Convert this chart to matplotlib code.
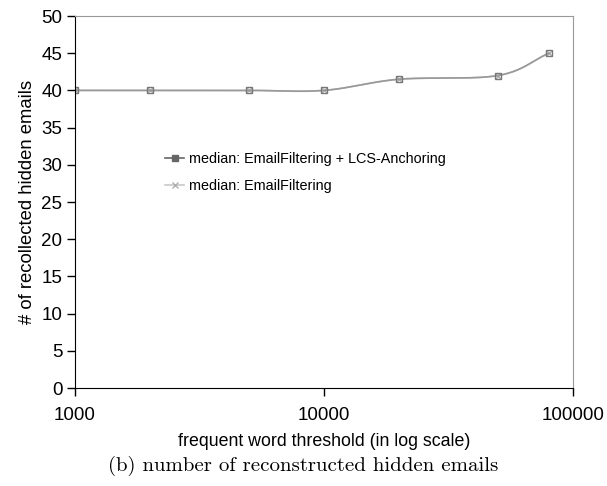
import numpy as np
import matplotlib.pyplot as plt
from matplotlib.ticker import FixedLocator, NullLocator

# frequent-word thresholds and median number of recollected hidden emails
thresholds = [1000, 2000, 5000, 10000, 20000, 50000, 80000]
median_lcs = [40, 40, 40, 40, 41.5, 42, 45]
median_filter = [40, 40, 40, 40, 41.5, 42, 45]


def smooth(xs, ys, n=40):
    """Catmull-Rom curve through the points, in log10(x) space."""
    lx = np.log10(xs)
    y = np.asarray(ys, dtype=float)
    px = np.concatenate([[2 * lx[0] - lx[1]], lx, [2 * lx[-1] - lx[-2]]])
    py = np.concatenate([[2 * y[0] - y[1]], y, [2 * y[-1] - y[-2]]])
    outx, outy = [], []
    t = np.linspace(0, 1, n)
    for i in range(1, len(px) - 2):
        for arr, out in ((px, outx), (py, outy)):
            p0, p1, p2, p3 = arr[i - 1], arr[i], arr[i + 1], arr[i + 2]
            m1 = (p2 - p0) / 2
            m2 = (p3 - p1) / 2
            h00 = 2 * t**3 - 3 * t**2 + 1
            h10 = t**3 - 2 * t**2 + t
            h01 = -2 * t**3 + 3 * t**2
            h11 = t**3 - t**2
            out.extend(h00 * p1 + h10 * m1 + h01 * p2 + h11 * m2)
    return 10 ** np.array(outx), np.array(outy)


plt.rcParams['font.family'] = ['Liberation Sans', 'DejaVu Sans']

fig = plt.figure(figsize=(6.07, 4.86), dpi=100)
ax = fig.add_axes([75 / 607, 1 - 388 / 486, 498 / 607, 372 / 486])

sx, sy = smooth(thresholds, median_filter)
ax.plot(sx, sy, color='#c8c8c8', lw=1.2)
ax.plot(thresholds, median_filter, ls='none', marker='x', ms=5,
        mec='#b0b0b0', mew=1)
ax.plot([], [], color='#c8c8c8', lw=1.2, marker='x', ms=5, mec='#b0b0b0',
        label='median: EmailFiltering')

sx, sy = smooth(thresholds, median_lcs)
ax.plot(sx, sy, color='#999999', lw=1.2)
ax.plot(thresholds, median_lcs, ls='none', marker='s', ms=4.5,
        mfc='none', mec='#777777', mew=1)
ax.plot([], [], color='#666666', lw=1.2, marker='s', ms=4, mfc='#666666',
        mec='#666666', label='median: EmailFiltering + LCS-Anchoring')

ax.set_xscale('log')
ax.set_xlim(1000, 100000)
ax.set_ylim(0, 50)
ax.xaxis.set_major_locator(FixedLocator([1000, 10000, 100000]))
ax.xaxis.set_minor_locator(NullLocator())
ax.set_xticklabels(['1000', '10000', '100000'])
ax.set_yticks(range(0, 51, 5))
ax.tick_params(labelsize=13.5, length=6, width=1, color='black')
ax.tick_params(axis='x', pad=8)
ax.tick_params(axis='y', pad=3)

for side in ('top', 'right'):
    ax.spines[side].set_color('#999999')
for side in ('left', 'bottom'):
    ax.spines[side].set_color('black')

ax.set_ylabel('# of recollected hidden emails', fontsize=13.3, labelpad=4)
ax.set_xlabel('frequent word threshold (in log scale)', fontsize=12.8,
              labelpad=6)

handles, labels = ax.get_legend_handles_labels()
ax.legend(handles[::-1], labels[::-1], loc='upper left',
          bbox_to_anchor=(0.17, 0.65), frameon=False, fontsize=10.4,
          handlelength=1.3, handletextpad=0.35, labelspacing=0.9,
          borderaxespad=0)

fig.text(0.5, 1 - 466 / 486, '(b) number of reconstructed hidden emails',
         ha='center', va='center', family='cmr10', fontsize=15)

fig.savefig('out.png', dpi=100)
